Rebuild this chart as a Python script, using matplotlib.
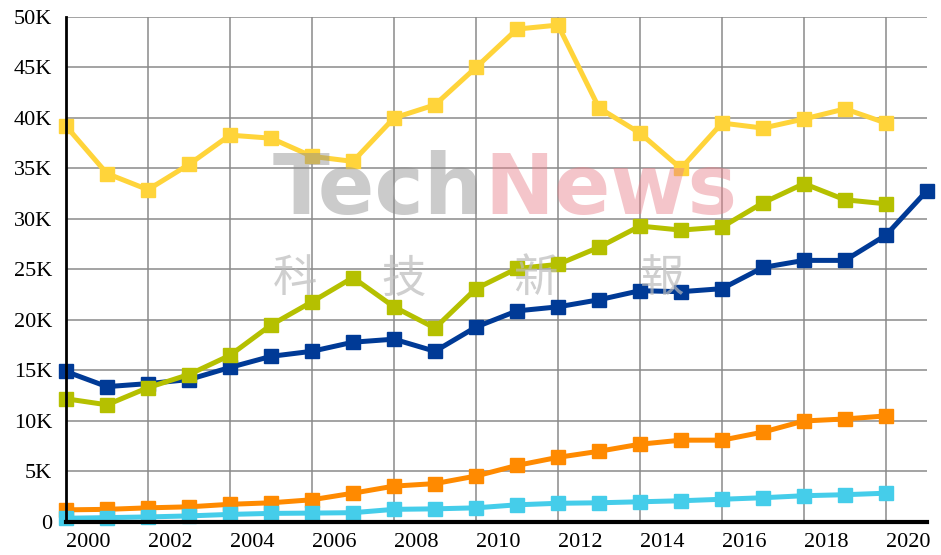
import matplotlib.pyplot as plt

# years on the x axis (navy series has one extra year)
years = list(range(2000, 2022))

yellow = [39200, 34500, 32900, 35400, 38300, 38000, 36200, 35700, 40000, 41300,
          45000, 48800, 49200, 41000, 38500, 35000, 39500, 39000, 39900, 40900, 39500]
olive = [12200, 11600, 13300, 14600, 16500, 19500, 21800, 24200, 21300, 19200,
         23100, 25100, 25500, 27200, 29300, 28900, 29200, 31600, 33500, 31900, 31500]
navy = [14900, 13400, 13700, 14100, 15300, 16400, 16900, 17800, 18100, 16900,
        19300, 20900, 21300, 22000, 22900, 22800, 23100, 25200, 25900, 25900, 28400, 32800]
orange = [1200, 1250, 1400, 1500, 1750, 1900, 2200, 2850, 3550, 3800,
          4550, 5600, 6400, 7000, 7700, 8100, 8100, 8900, 10000, 10200, 10500]
cyan = [370, 430, 500, 600, 750, 850, 880, 920, 1250, 1300,
        1400, 1700, 1850, 1900, 2000, 2100, 2250, 2400, 2600, 2700, 2850]

y_ticks = [0, 5000, 10000, 15000, 20000, 25000, 30000, 35000, 40000, 45000, 50000]
y_labels = ["0", "5K", "10K", "15K", "20K", "25K", "30K", "35K", "40K", "45K", "50K"]
x_ticks = list(range(2000, 2021, 2))

plt.rcParams['font.family'] = ['Liberation Serif', 'DejaVu Serif']

fig = plt.figure(figsize=(9.41, 5.55), dpi=100)
ax = fig.add_axes([0.0701, 0.0595, 0.915, 0.9099])

series = [
    (orange, "#ff8a00"),
    (cyan, "#45cdea"),
    (navy, "#003a96"),
    (olive, "#b5c000"),
    (yellow, "#ffd43a"),
]
for vals, col in series:
    ax.plot(years[:len(vals)], vals, color=col, lw=3.6, marker="s", ms=9.5,
            clip_on=False, zorder=3)

ax.set_xlim(2000, 2021)
ax.set_ylim(0, 50000)
ax.set_yticks(y_ticks)
ax.set_yticklabels(y_labels, fontsize=16)
ax.set_xticks(x_ticks)
ax.set_xticklabels([str(x) for x in x_ticks], fontsize=16, ha="left")
ax.tick_params(length=0, pad=10)
ax.tick_params(axis="x", pad=8)
ax.grid(True, color="#8a8a8a", lw=1.1)
ax.set_axisbelow(True)

for s in ["top", "right"]:
    ax.spines[s].set_visible(False)
ax.spines["left"].set_linewidth(2)
ax.spines["bottom"].set_linewidth(3)
ax.spines["left"].set_zorder(5)
ax.spines["bottom"].set_zorder(5)

# watermark
fig.text(0.29, 0.615, "Tech", fontsize=60, color="#8c8c8c", alpha=0.45,
         family="DejaVu Sans", weight="bold", zorder=10)
fig.text(0.515, 0.615, "News", fontsize=60, color="#e8808a", alpha=0.45,
         family="DejaVu Sans", weight="bold", zorder=10)
for xt, ch in [(0.29, "科"), (0.405, "技"), (0.545, "新"), (0.68, "報")]:
    fig.text(xt, 0.475, ch, fontsize=32, color="#bbbbbb", alpha=0.7,
             family=["Noto Sans CJK TC", "DejaVu Sans"], zorder=10)

fig.savefig("out.png", dpi=100)
